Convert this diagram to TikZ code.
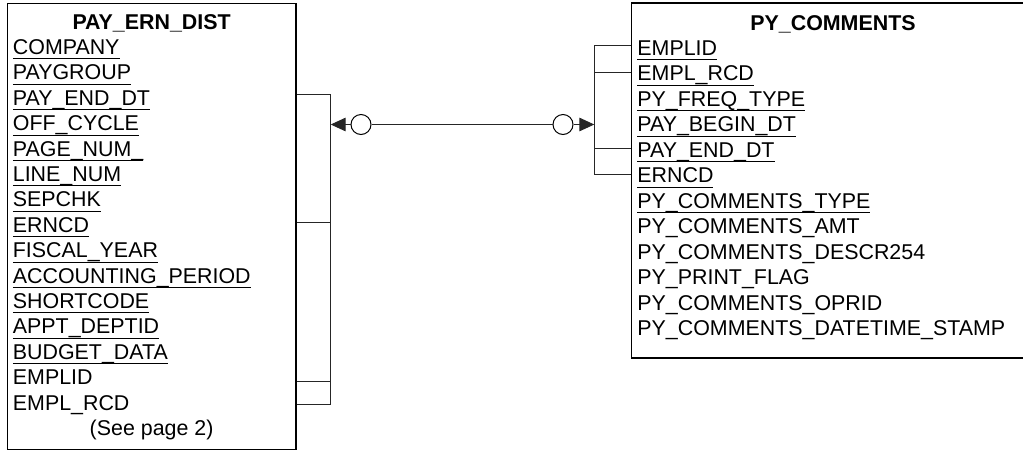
\documentclass[tikz,border=0pt]{standalone}
\usepackage{fontspec}
\setmainfont{Liberation Sans}
\usetikzlibrary{arrows.meta,fit}
\newcommand{\fieldfont}{\fontsize{10.7pt}{12.7pt}\selectfont}
\newsavebox{\keybox}
\newcommand{\keyfield}[1]{\sbox{\keybox}{#1}\rlap{\rule[-2.4pt]{\wd\keybox}{0.5pt}}\usebox{\keybox}}
\tikzset{ %inner sep = 0pt,
  {table box/.style} ={draw, line width=0.8pt, inner sep=0},
  {table edge/.style} ={draw, line width=0.8pt},
  {field/.style} ={anchor=base west, inner sep=0, font=\fieldfont},
  {title/.style} ={anchor=base, inner sep=0, font=\fieldfont\bfseries},
  {link/.style} ={draw, line width=0.5pt, black!85},
  {ring/.style} ={circle, draw, line width=0.5pt, minimum size=10pt, inner sep=0},
  >={Triangle[length=7.5pt,width=6.8pt]},
}

\begin{document}
\begin{tikzpicture}[x=0.5pt, y=-0.5pt]
\useasboundingbox (0,0) rectangle (1023,451);
\clip (0,0) rectangle (1023,451);
% PAY_ERN_DIST
\node[table box, fit={(7.5,3.5) (295.7,449.3)}] (lbox) {};
\node[title] (ltitle) at (151.6,29) {PAY\_ERN\_DIST};
\foreach \fld [count=\i] in {COMPANY, PAYGROUP, PAY\_END\_DT, OFF\_CYCLE,
    PAGE\_NUM\_, LINE\_NUM, SEPCHK, ERNCD, FISCAL\_YEAR, ACCOUNTING\_PERIOD,
    SHORTCODE, APPT\_DEPTID, BUDGET\_DATA}{
  \node[field] (l\i) at (12.5,54.5+25.4*\i-25.4) {\keyfield{\fld}};
}
\foreach \fld [count=\i from 14] in {EMPLID, EMPL\_RCD}{
  \node[field] (l\i) at (12.5,54.5+25.4*\i-25.4) {\fld};
}
\node[title, font=\fieldfont] (lnote) at (151.6,435.5) {(See page 2)};
% PY_COMMENTS (runs off the right edge)
\node[inner sep=0, fit={(631.7,3.5) (1045,357.5)}] (rbox) {};
\path[table edge] (rbox.north east) -- (rbox.north west) -- (rbox.south west) -- (rbox.south east);
\node[title] (rtitle) at (833,30) {PY\_COMMENTS};
\foreach \fld [count=\i] in {EMPLID, EMPL\_RCD, PY\_FREQ\_TYPE, PAY\_BEGIN\_DT,
    PAY\_END\_DT, ERNCD, PY\_COMMENTS\_TYPE}{
  \node[field] (r\i) at (637,55.5+25.45*\i-25.45) {\keyfield{\fld}};
}
\foreach \fld [count=\i from 8] in {PY\_COMMENTS\_AMT, PY\_COMMENTS\_DESCR254,
    PY\_PRINT\_FLAG, PY\_COMMENTS\_OPRID, PY\_COMMENTS\_DATETIME\_STAMP}{
  \node[field] (r\i) at (637,55.5+25.45*\i-25.45) {\fld};
}
% relationship
\coordinate (lbar) at (330.7,124.5);
\coordinate (rbar) at (594.3,124.5);
\foreach \row/\dy in {3/11, 8/10, 14/3, 15/5.8}{
  \draw[link] ([yshift=\dy*0.5pt]l\row.base -| lbox.east) -- ([yshift=\dy*0.5pt]l\row.base -| lbar);
}
\draw[link] ([yshift=5.5pt]l3.base -| lbar) -- ([yshift=2.9pt]l15.base -| lbar);
\foreach \row/\dy in {1/10.5, 2/8.3, 5/9, 6/8.7}{
  \draw[link] ([yshift=\dy*0.5pt]r\row.base -| rbox.west) -- ([yshift=\dy*0.5pt]r\row.base -| rbar);
}
\draw[link] ([yshift=5.25pt]r1.base -| rbar) -- ([yshift=4.35pt]r6.base -| rbar);
\node[ring] (lring) at (361,124.5) {};
\node[ring] (rring) at (563,124.5) {};
\path[link, ->] (lring) edge (lbar);
\path[link] (lring) edge (rring);
\path[link, ->] (rring) edge (rbar);
\end{tikzpicture}
\end{document}
